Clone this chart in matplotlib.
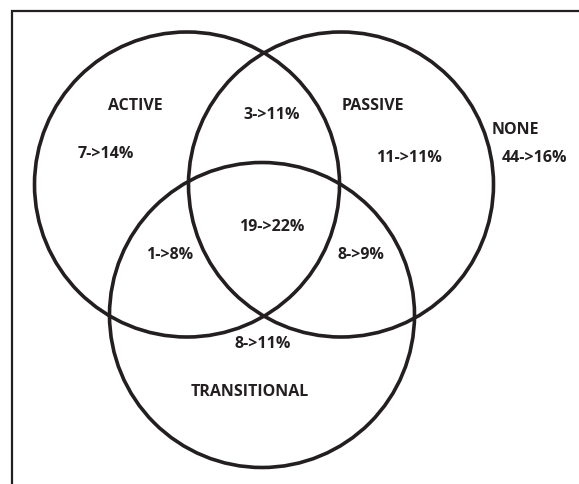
"""Venn diagram of ACTIVE / PASSIVE / TRANSITIONAL shares (before -> after)."""

import matplotlib
matplotlib.use("Agg")
import matplotlib.pyplot as plt
from matplotlib.patches import Circle

# set names and region values (before -> after, %)
SET_NAMES = ["ACTIVE", "PASSIVE", "TRANSITIONAL"]
OUTSIDE_NAME = "NONE"
REGIONS = ["A", "AP", "P", "AT", "APT", "PT", "T", "none"]
BEFORE = [7, 3, 11, 1, 19, 8, 8, 44]
AFTER = [14, 11, 11, 8, 22, 9, 11, 16]

# layout (pixel coords, y down)
W, H = 579, 485
CIRCLES = {"ACTIVE": (187, 185.5), "PASSIVE": (341, 185.5), "TRANSITIONAL": (262, 316)}
RADIUS = 152.5
NAME_POS = {"ACTIVE": (135.5, 106), "PASSIVE": (373, 106),
            "TRANSITIONAL": (250, 392), "NONE": (515, 130)}
VALUE_POS = {"A": (106, 154), "AP": (272, 115), "P": (409, 158), "AT": (170, 255),
             "APT": (272, 227), "PT": (361, 255), "T": (263, 344), "none": (534, 158)}

INK = "#231f20"
plt.rcParams["font.family"] = ["Open Sans", "DejaVu Sans"]

fig = plt.figure(figsize=(W / 100, H / 100), dpi=100)
ax = fig.add_axes([0, 0, 1, 1])
ax.set_xlim(0, W)
ax.set_ylim(H, 0)
ax.set_aspect("equal")
ax.axis("off")

# frame: only top and left edges visible
ax.plot([12, 12, W], [H, 12, 12], color=INK, lw=1.6, solid_joinstyle="miter")

for name in SET_NAMES:
    ax.add_patch(Circle(CIRCLES[name], RADIUS, fill=False, ec=INK, lw=2.6))

txt = dict(ha="center", va="center", fontsize=11.5, fontweight="bold", color=INK)
for name in SET_NAMES + [OUTSIDE_NAME]:
    ax.text(*NAME_POS[name], name, **txt)
for reg, b, a in zip(REGIONS, BEFORE, AFTER):
    ax.text(*VALUE_POS[reg], f"{b}->{a}%", **txt)

fig.savefig("out.png", dpi=100)
